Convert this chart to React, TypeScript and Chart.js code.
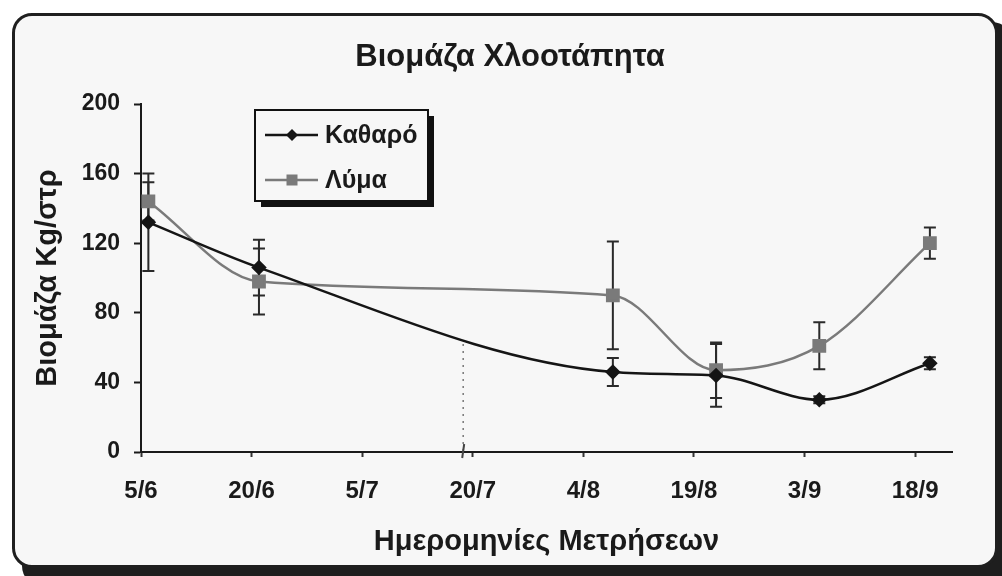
import React, { useEffect, useRef } from 'react';
import { Chart, registerables } from 'chart.js';

Chart.register(...registerables);

// ---- data ----
const chartTitle = 'Βιομάζα Χλοοτάπητα';
const yAxisTitle = 'Βιομάζα Kg/στρ';
const xAxisTitle = 'Ημερομηνίες Μετρήσεων';
const xTickLabels = ['5/6', '20/6', '5/7', '20/7', '4/8', '19/8', '3/9', '18/9'];
const xTickStepDays = 15;
const xMaxDays = 110;
const yMax = 200;
const yStep = 40;
// measurement day (days after 5/6)
const sampleDays = [1, 16, 64, 78, 92, 107];
const seriesNames = ['Καθαρό', 'Λύμα'];
const katharoValues = [132, 106, 46, 44, 30, 51];
const katharoErrors = [28, 16, 8, 18, 2, 3.5];
const lymaValues = [144, 98, 90, 47, 61, 120];
const lymaErrors = [11, 19, 31, 16, 13.5, 9];
const axisBreakDay = 43.7;
const axisBreakHeight = 62;

const INK = '#1a1a1a';
const KATHARO_COLOR = '#151515';
const LYMA_COLOR = '#7a7a7a';
const FONT = "'Liberation Sans', Arial, Helvetica, sans-serif";

const errorSets = [katharoErrors, lymaErrors];

const errorBarsPlugin = {
  id: 'errorBars',
  beforeDatasetsDraw(chart: any) {
    const { ctx } = chart;
    const xs = chart.scales.x;
    const ys = chart.scales.y;
    ctx.save();
    // axis break marker
    const bx = xs.getPixelForValue(axisBreakDay);
    ctx.strokeStyle = '#777';
    ctx.lineWidth = 1.5;
    ctx.setLineDash([2, 5]);
    ctx.beginPath();
    ctx.moveTo(bx, ys.getPixelForValue(axisBreakHeight));
    ctx.lineTo(bx, ys.getPixelForValue(0));
    ctx.stroke();
    ctx.setLineDash([]);
    ctx.lineWidth = 2;
    ctx.strokeStyle = '#444';
    ctx.beginPath();
    ctx.moveTo(bx - 1, ys.getPixelForValue(0) + 6);
    ctx.lineTo(bx + 1, ys.getPixelForValue(0) - 8);
    ctx.stroke();

    chart.data.datasets.forEach((ds: any, i: number) => {
      const errs = errorSets[i];
      ctx.strokeStyle = '#2a2a2a';
      ctx.lineWidth = 2;
      ds.data.forEach((p: any, j: number) => {
        const e = errs[j];
        const x = xs.getPixelForValue(p.x);
        const yt = ys.getPixelForValue(p.y + e);
        const yb = ys.getPixelForValue(p.y - e);
        ctx.beginPath();
        ctx.moveTo(x, yt);
        ctx.lineTo(x, yb);
        ctx.moveTo(x - 6, yt);
        ctx.lineTo(x + 6, yt);
        ctx.moveTo(x - 6, yb);
        ctx.lineTo(x + 6, yb);
        ctx.stroke();
      });
    });
    ctx.restore();
  },
};

const legendBoxPlugin = {
  id: 'legendBox',
  afterDraw(chart: any) {
    const { ctx, chartArea } = chart;
    const x0 = chartArea.left + 114;
    const y0 = chartArea.top + 6;
    const w = 173;
    const h = 91;
    ctx.save();
    ctx.fillStyle = '#111';
    ctx.fillRect(x0 + 6, y0 + 6, w, h);
    ctx.fillStyle = '#f7f7f7';
    ctx.fillRect(x0, y0, w, h);
    ctx.strokeStyle = '#111';
    ctx.lineWidth = 2;
    ctx.strokeRect(x0, y0, w, h);
    chart.data.datasets.forEach((ds: any, i: number) => {
      const cy = y0 + 25 + i * 45;
      ctx.strokeStyle = ds.borderColor;
      ctx.lineWidth = 2.5;
      ctx.beginPath();
      ctx.moveTo(x0 + 10, cy);
      ctx.lineTo(x0 + 63, cy);
      ctx.stroke();
      const mx = x0 + 37;
      ctx.fillStyle = ds.pointBackgroundColor;
      ctx.beginPath();
      if (ds.pointStyle === 'rectRot') {
        ctx.moveTo(mx, cy - 6);
        ctx.lineTo(mx + 6, cy);
        ctx.lineTo(mx, cy + 6);
        ctx.lineTo(mx - 6, cy);
        ctx.closePath();
        ctx.fill();
      } else {
        ctx.fillRect(mx - 5.5, cy - 5.5, 11, 11);
      }
      ctx.fillStyle = INK;
      ctx.font = `bold 25px ${FONT}`;
      ctx.textAlign = 'left';
      ctx.textBaseline = 'middle';
      ctx.fillText(ds.label, x0 + 70, cy + 1);
    });
    ctx.restore();
  },
};

export default function App() {
  const canvasRef = useRef<HTMLCanvasElement | null>(null);

  useEffect(() => {
    if (!canvasRef.current) return;
    Chart.defaults.font.family = FONT;
    const chart = new Chart(canvasRef.current, {
      type: 'line',
      data: {
        datasets: [
          {
            label: seriesNames[0],
            data: sampleDays.map((d, i) => ({ x: d, y: katharoValues[i] })),
            borderColor: KATHARO_COLOR,
            backgroundColor: KATHARO_COLOR,
            pointBackgroundColor: KATHARO_COLOR,
            pointBorderColor: KATHARO_COLOR,
            pointStyle: 'rectRot',
            pointRadius: 6,
            borderWidth: 2.5,
            cubicInterpolationMode: 'monotone',
            yAxisID: 'y',
          },
          {
            label: seriesNames[1],
            data: sampleDays.map((d, i) => ({ x: d, y: lymaValues[i] })),
            borderColor: LYMA_COLOR,
            backgroundColor: LYMA_COLOR,
            pointBackgroundColor: LYMA_COLOR,
            pointBorderColor: LYMA_COLOR,
            pointStyle: 'rect',
            pointRadius: 8,
            borderWidth: 2.5,
            cubicInterpolationMode: 'monotone',
            yAxisID: 'y',
          },
        ],
      },
      options: {
        responsive: false,
        animation: false,
        layout: { padding: { left: 18, right: 0, top: 0, bottom: 0 } },
        plugins: {
          legend: { display: false },
          tooltip: { enabled: false },
          title: {
            display: true,
            text: chartTitle,
            color: INK,
            font: { size: 31, weight: 'bold' },
            padding: { top: 38.4, bottom: 28.4 },
          },
        },
        scales: {
          x: {
            type: 'linear',
            position: 'bottom',
            min: 0,
            max: xMaxDays,
            ticks: {
              stepSize: xTickStepDays,
              includeBounds: false,
              autoSkip: false,
              maxRotation: 0,
              color: INK,
              font: { size: 24, weight: 'bold' },
              padding: 20,
              callback: (v: any) => xTickLabels[Math.round(Number(v) / xTickStepDays)] ?? '',
            },
            grid: { drawOnChartArea: false, drawTicks: true, tickLength: 5, tickColor: '#333', tickWidth: 2 },
            border: { display: true, color: INK, width: 2 },
            title: {
              display: true,
              text: xAxisTitle,
              color: INK,
              font: { size: 29, weight: 'bold' },
              padding: { top: 0, bottom: 17 },
            },
            afterFit: (s: any) => {
              s.height = 124;
            },
          },
          y: {
            type: 'linear',
            position: 'left',
            min: 0,
            max: yMax,
            ticks: {
              stepSize: yStep,
              color: INK,
              font: { size: 23, weight: 'bold' },
              padding: 14,
            },
            grid: { drawOnChartArea: false, drawTicks: true, tickLength: 7, tickColor: INK, tickWidth: 2 },
            border: { display: true, color: INK, width: 2 },
            title: {
              display: true,
              text: yAxisTitle,
              color: INK,
              font: { size: 29, weight: 'bold' },
              padding: { top: 13, bottom: 0 },
            },
            afterFit: (s: any) => {
              s.width = 123;
            },
          },
          yR: {
            type: 'linear',
            position: 'right',
            display: true,
            min: 0,
            max: yMax,
            ticks: { display: false },
            grid: { display: false },
            border: { display: false },
            afterFit: (s: any) => {
              s.width = 50;
            },
          },
        },
      } as any,
      plugins: [errorBarsPlugin, legendBoxPlugin],
    });
    return () => chart.destroy();
  }, []);

  return (
    <div style={{ position: 'absolute', left: 0, top: 0, width: 1002, height: 576, background: '#ffffff', overflow: 'hidden' }}>
      <div
        style={{
          position: 'absolute',
          left: 22,
          top: 22,
          width: 990,
          height: 564,
          background: '#1e1e1e',
          borderRadius: 20,
        }}
      />
      <div
        style={{
          position: 'absolute',
          left: 12,
          top: 13,
          width: 986,
          height: 555,
          boxSizing: 'border-box',
          border: '3px solid #1f1f1f',
          borderRadius: 20,
          background: '#f7f7f7',
        }}
      />
      <canvas
        ref={canvasRef}
        width={1002}
        height={576}
        style={{ position: 'absolute', left: 0, top: 0, width: 1002, height: 576 }}
      />
    </div>
  );
}
